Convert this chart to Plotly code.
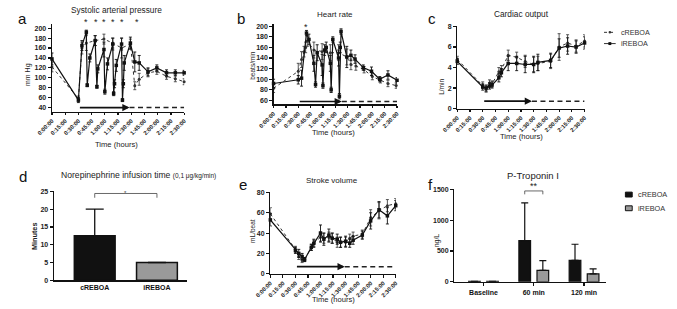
import plotly.graph_objects as go

W, H = 677, 309
def px(x): return x / W
def py(y): return 1 - y / H

# ---------------- data ----------------
time_ticks = [0, 15, 30, 45, 60, 75, 90, 105, 120, 135, 150]
time_labels = ["0:00:00", "0:15:00", "0:30:00", "0:45:00", "1:00:00", "1:15:00",
               "1:30:00", "1:45:00", "2:00:00", "2:15:00", "2:30:00"]
groups = ["cREBOA", "iREBOA"]

# a: systolic arterial pressure
sap_t_i = [0, 30, 34, 39, 40, 43, 49, 51, 52, 59, 60, 63, 69, 70, 71, 73, 79, 80, 81, 82, 89, 94, 99, 109, 119, 130, 140, 150]
sap_i = [138, 55, 165, 192, 85, 140, 175, 82, 118, 157, 72, 128, 168, 68, 88, 125, 168, 55, 88, 130, 170, 132, 130, 112, 120, 110, 110, 110]
sap_i_err = [12, 5, 10, 4, 3, 8, 10, 3, 8, 15, 5, 12, 12, 4, 8, 12, 12, 3, 8, 15, 12, 20, 15, 8, 6, 6, 6, 5]
sap_t_c = [0, 30, 34, 39, 49, 59, 69, 79, 89, 94, 99, 109, 119, 130, 140, 150]
sap_c = [122, 58, 160, 170, 175, 178, 170, 160, 168, 84, 97, 110, 113, 103, 98, 92]
sap_c_err = [10, 5, 12, 15, 10, 10, 10, 20, 10, 8, 12, 8, 6, 6, 6, 6]
sap_sig = [39, 50, 59, 69, 79, 96]

# b: heart rate
hr_t_i = [0, 30, 34, 40, 43, 49, 51, 53, 59, 60, 62, 64, 69, 70, 72, 79, 80, 81, 82, 89, 94, 99, 109, 119, 129, 139, 150]
hr_i = [92, 99, 102, 187, 175, 130, 90, 150, 127, 88, 155, 160, 130, 80, 175, 140, 68, 160, 190, 142, 145, 138, 122, 115, 100, 108, 98]
hr_i_err = [8, 8, 15, 5, 10, 15, 5, 15, 20, 5, 10, 10, 15, 5, 5, 15, 5, 10, 5, 20, 10, 8, 5, 8, 5, 8, 5]
hr_t_c = [0, 30, 34, 37, 39, 41, 49, 59, 69, 79, 89, 94, 100, 110, 120, 130, 139, 149]
hr_c = [83, 115, 137, 152, 160, 172, 155, 152, 150, 150, 142, 128, 125, 118, 105, 98, 92, 88]
hr_c_err = [8, 15, 15, 10, 10, 10, 15, 15, 15, 15, 15, 10, 8, 6, 6, 5, 6, 5]
hr_sig = [39]

# c: cardiac output
co_t = [0, 30, 34, 38, 41, 49, 52, 60, 70, 80, 90, 95, 110, 120, 130, 140, 150]
co_i = [4.6, 2.1, 2.0, 2.2, 2.3, 3.0, 3.5, 4.4, 4.4, 4.3, 4.3, 4.5, 4.7, 5.9, 6.1, 6.0, 6.4]
co_i_err = [0.3, 0.3, 0.3, 0.3, 0.3, 0.4, 0.4, 0.7, 0.7, 0.8, 0.8, 0.8, 0.7, 0.9, 0.8, 0.6, 0.6]
co_c = [4.8, 2.3, 1.9, 2.5, 2.4, 3.6, 3.8, 5.2, 5.0, 4.6, 4.3, 4.4, 4.6, 6.0, 6.4, 6.1, 6.6]
co_c_err = [0.3, 0.3, 0.3, 0.3, 0.3, 0.4, 0.4, 0.5, 0.5, 0.6, 0.7, 0.7, 0.7, 1.3, 0.8, 0.6, 0.6]

# d: norepinephrine infusion time
ne_minutes = [12.5, 5.0]
ne_err = [7.5, 0.0]

# e: stroke volume
sv_t = [0, 30, 34, 38, 41, 49, 52, 60, 64, 70, 74, 80, 84, 90, 95, 99, 110, 120, 130, 140, 150]
sv_i = [53, 23, 20, 17, 14, 26, 30, 40, 34, 38, 35, 34, 31, 32, 30, 33, 38, 52, 63, 57, 67]
sv_i_err = [6, 3, 4, 3, 2, 3, 4, 8, 6, 6, 5, 5, 5, 5, 4, 4, 4, 8, 8, 8, 5]
sv_c = [59, 24, 17, 13, 14, 26, 30, 36, 35, 36, 35, 31, 31, 31, 35, 37, 39, 55, 62, 67, 69]
sv_c_err = [6, 3, 3, 2, 2, 3, 3, 5, 5, 5, 5, 5, 5, 5, 4, 4, 4, 8, 8, 6, 5]

# f: P-troponin I
trop_cats = ["Baseline", "60 min", "120 min"]
trop_c = [8, 670, 350]
trop_c_err = [2, 610, 260]
trop_i = [8, 185, 130]
trop_i_err = [2, 160, 80]

# ---------------- styles ----------------
FONT = "Arial, Liberation Sans, sans-serif"
BLACK = "#111111"
GREY = "#9a9a9a"

fig = go.Figure()

def line_pair(xa, ya, t_c, v_c, e_c, t_i, v_i, e_i):
    fig.add_trace(go.Scatter(
        x=t_c, y=v_c, name="cREBOA", xaxis=xa, yaxis=ya, mode="lines+markers",
        line=dict(color="#333333", width=1, dash="dot"),
        marker=dict(symbol="circle", size=3, color="#333333"),
        error_y=dict(type="data", array=e_c, visible=True, color="#444444", thickness=0.9, width=1.5),
        showlegend=False, cliponaxis=False))
    fig.add_trace(go.Scatter(
        x=t_i, y=v_i, name="iREBOA", xaxis=xa, yaxis=ya, mode="lines+markers",
        line=dict(color=BLACK, width=1.2),
        marker=dict(symbol="square", size=3.5, color=BLACK),
        error_y=dict(type="data", array=e_i, visible=True, color=BLACK, thickness=0.9, width=1.5),
        showlegend=False, cliponaxis=False))

line_pair("x", "y", sap_t_c, sap_c, sap_c_err, sap_t_i, sap_i, sap_i_err)
line_pair("x2", "y2", hr_t_c, hr_c, hr_c_err, hr_t_i, hr_i, hr_i_err)
line_pair("x3", "y3", co_t, co_c, co_c_err, co_t, co_i, co_i_err)
line_pair("x5", "y5", sv_t, sv_c, sv_c_err, sv_t, sv_i, sv_i_err)

# d bars
fig.add_trace(go.Bar(
    x=groups, y=ne_minutes, xaxis="x4", yaxis="y4", width=0.656,
    marker=dict(color=[BLACK, GREY], line=dict(color=BLACK, width=1.5)),
    error_y=dict(type="data", array=ne_err, arrayminus=[0, 0], symmetric=False,
                 color=BLACK, thickness=1.3, width=9),
    showlegend=False))

# f bars
fig.add_trace(go.Bar(
    x=trop_cats, y=trop_c, name="cREBOA", xaxis="x6", yaxis="y6",
    marker=dict(color=BLACK, line=dict(color=BLACK, width=1.2)),
    error_y=dict(type="data", array=trop_c_err, arrayminus=[0, 0, 0], symmetric=False,
                 color=BLACK, thickness=1.2, width=3.5),
    showlegend=False))
fig.add_trace(go.Bar(
    x=trop_cats, y=trop_i, name="iREBOA", xaxis="x6", yaxis="y6",
    marker=dict(color=GREY, line=dict(color=BLACK, width=1.2)),
    error_y=dict(type="data", array=trop_i_err, arrayminus=[0, 0, 0], symmetric=False,
                 color=BLACK, thickness=1.2, width=3.5),
    showlegend=False))

axis_common = dict(showline=True, linecolor=BLACK, linewidth=1.3, ticks="outside",
                   ticklen=3, tickwidth=1.2, tickcolor=BLACK, showgrid=False,
                   zeroline=False, tickfont=dict(family=FONT, size=7, color="#222", weight="bold"))

def time_x(dom, anchor):
    return dict(axis_common, domain=dom, anchor=anchor, range=[0, 150],
                tickvals=time_ticks, ticktext=time_labels, tickangle=-45, ticklen=2.5,
                tickfont=dict(family=FONT, size=5.8, color="#222", weight="bold"))

layout = dict(
    width=W, height=H, margin=dict(l=0, r=0, t=0, b=0),
    paper_bgcolor="white", plot_bgcolor="white",
    font=dict(family=FONT, color=BLACK), showlegend=False,
    barmode="group", bargap=0.28, bargroupgap=0.355,
    xaxis=time_x([px(37), px(173)], "y"),
    yaxis=dict(axis_common, domain=[py(110), py(20.7)], anchor="x", range=[32, 208],
               tickvals=[40, 60, 80, 100, 120, 140, 160, 180, 200]),
    xaxis2=time_x([px(265), px(392)], "y2"),
    yaxis2=dict(axis_common, domain=[py(102.7), py(20.7)], anchor="x2", range=[52.6, 203.7],
                tickvals=[60, 80, 100, 120, 140, 160, 180, 200]),
    xaxis3=time_x([px(454), px(585)], "y3"),
    yaxis3=dict(axis_common, domain=[py(107), py(22)], anchor="x3", range=[0, 8.1],
                tickvals=[0, 2, 4, 6, 8]),
    xaxis4=dict(axis_common, domain=[px(39), px(176)], anchor="y4", range=[-0.656, 1.484],
                ticks="", tickfont=dict(family=FONT, size=7, color=BLACK, weight="bold")),
    yaxis4=dict(axis_common, domain=[py(282.7), py(191.7)], anchor="x4", range=[0, 25],
                tickvals=[0, 5, 10, 15, 20, 25]),
    xaxis5=time_x([px(261.7), px(390.7)], "y5"),
    yaxis5=dict(axis_common, domain=[py(276), py(192.3)], anchor="x5", range=[0, 80.5],
                tickvals=[0, 20, 40, 60, 80]),
    xaxis6=dict(axis_common, domain=[px(451), px(606.7)], anchor="y6", range=[-0.58, 2.43],
                tickfont=dict(family=FONT, size=7, color=BLACK, weight="bold")),
    yaxis6=dict(axis_common, domain=[py(284.3), py(189.7)], anchor="x6", range=[0, 1500],
                tickvals=[0, 500, 1000, 1500]),
)
fig.update_layout(**layout)

ann = []
shapes = []

def text(x, y, s, size=9, **kw):
    d = dict(x=px(x), y=py(y), xref="paper", yref="paper", text=s, showarrow=False,
             font=dict(family=FONT, size=size, color=kw.pop("color", "#222")),
             xanchor="center", yanchor="middle")
    d.update(kw)
    ann.append(d)

# panel letters
for (x, y, s) in [(7, 15, "a"), (232, 15, "b"), (428, 15, "c"),
                  (7, 177, "d"), (234, 185, "e"), (426, 185, "f")]:
    text(x, y, s, size=15, color="#111")

# titles
text(103, 6, "Systolic arterial pressure", size=8.3)
text(328, 10.5, "Heart rate", size=8)
text(520, 10, "Cardiac output", size=8.3)
text(126, 175, "Norepinephrine infusion time <span style='font-size:6.5px'>(0,1 μg/kg/min)</span>", size=8.6)
text(325, 181, "Stroke volume", size=8)
text(532, 175, "P-Troponin I", size=9.5)

# y axis titles
text(13, 72, "mm Hg", size=7, textangle=-90)
text(243, 63, "beats/min", size=6.5, textangle=-90)
text(437, 85, "L/min", size=6.5, textangle=-90)
text(19, 237, "<b>Minutes</b>", size=7.3, textangle=-90)
text(244, 232, "mL/beat", size=6.5, textangle=-90)
text(433, 242, "ng/L", size=7, textangle=-90)

# x axis titles
text(103, 144, "Time (hours)", size=7.6)
text(327, 131, "Time (hours)", size=7.6)
text(520, 136, "Time (hours)", size=7.6)
text(327, 302.5, "Time (hours)", size=7.6)

# significance stars for time courses
for t in sap_sig:
    ann.append(dict(x=t, y=208, xref="x", yref="y", text="*", showarrow=False,
                    font=dict(family=FONT, size=9, color="#222"), yshift=2, yanchor="middle"))
for t in hr_sig:
    ann.append(dict(x=t, y=203.7, xref="x2", yref="y2", text="*", showarrow=False,
                    font=dict(family=FONT, size=9, color="#222"), yshift=-3, yanchor="middle"))

# occlusion arrows (solid with head) + dashed continuation
arrow_specs = [("x", "y", 40, 88), ("x2", "y2", 58, 83), ("x3", "y3", 0.72, 88), ("x5", "y5", 7, 89)]
for xa, ya, yv, tip in arrow_specs:
    ann.append(dict(x=tip, y=yv, ax=30, ay=yv, xref=xa, yref=ya, axref=xa, ayref=ya,
                    text="", showarrow=True, arrowhead=2, arrowsize=0.85, arrowwidth=1.7,
                    arrowcolor=BLACK, standoff=0, startstandoff=0))
    shapes.append(dict(type="line", xref=xa, yref=ya, x0=tip, x1=150, y0=yv, y1=yv,
                       line=dict(color="#222", width=1.5, dash="5px,3.5px")))

# d bracket
shapes.append(dict(type="path", xref="x4", yref="y4",
                   path="M 0,23.2 L 0,24.4 L 1,24.4 L 1,23.2",
                   line=dict(color="#444", width=0.8)))
ann.append(dict(x=0.5, y=24.4, xref="x4", yref="y4", text="*", showarrow=False,
                font=dict(family=FONT, size=6, color="#444"), yshift=0, yanchor="middle"))

# f bracket
shapes.append(dict(type="path", xref="x6", yref="y6",
                   path="M 0.82,1420 L 0.82,1475 L 1.18,1475 L 1.18,1420",
                   line=dict(color="#444", width=0.8)))
ann.append(dict(x=1.0, y=1475, xref="x6", yref="y6", text="**", showarrow=False,
                font=dict(family=FONT, size=9, color="#222"), yshift=5, yanchor="middle"))

# legend for line panels (drawn manually to match the compact key)
for name, yy, dash, sym in [(groups[0], 29, "dot", "circle"), (groups[1], 40.5, "solid", "rect")]:
    shapes.append(dict(type="line", xref="paper", yref="paper", x0=px(605), x1=px(617),
                       y0=py(yy), y1=py(yy), line=dict(color="#333", width=1, dash=dash)))
    if sym == "circle":
        shapes.append(dict(type="circle", xref="paper", yref="paper", x0=px(609.7), x1=px(612.3),
                           y0=py(yy + 1.3), y1=py(yy - 1.3), fillcolor="#333", line=dict(width=0)))
    else:
        shapes.append(dict(type="rect", xref="paper", yref="paper", x0=px(609.5), x1=px(612.5),
                           y0=py(yy + 1.5), y1=py(yy - 1.5), fillcolor=BLACK, line=dict(width=0)))
    text(620.5, yy, name, size=7.2, xanchor="left", color="#333")

# legend for troponin bars
for name, yy, col in [(groups[0], 195, BLACK), (groups[1], 209, GREY)]:
    shapes.append(dict(type="rect", xref="paper", yref="paper", x0=px(627), x1=px(634),
                       y0=py(yy + 2.5), y1=py(yy - 2.5), fillcolor=col,
                       line=dict(color=BLACK, width=1)))
    text(637.5, yy, name, size=7.3, xanchor="left", color="#333")

fig.update_layout(annotations=ann, shapes=shapes)
fig.write_html("out.html", config={"displayModeBar": False, "staticPlot": True},
               post_script="document.body.style.margin='0';document.body.style.overflow='hidden';")
